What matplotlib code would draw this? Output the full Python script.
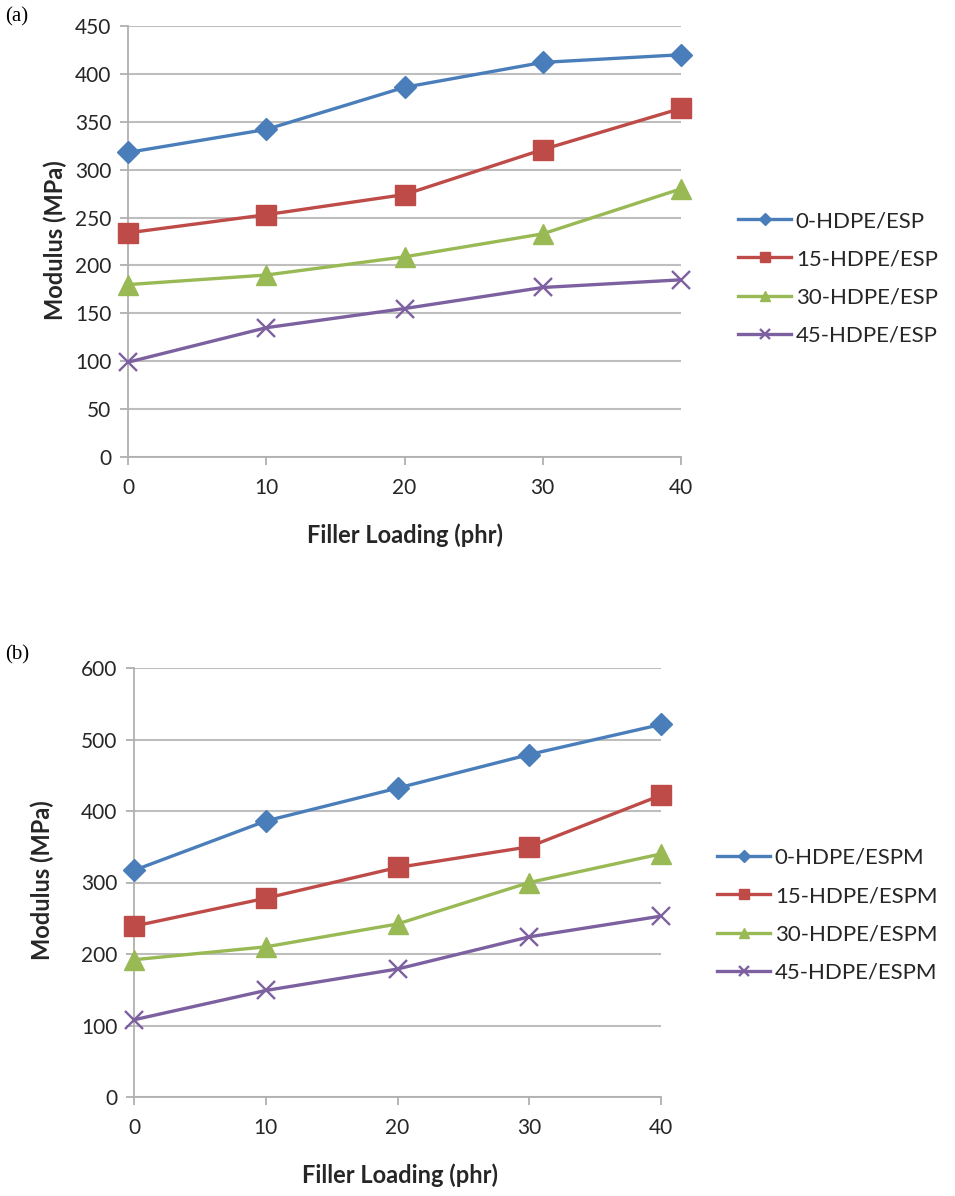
import matplotlib
matplotlib.use('Agg')
import matplotlib.pyplot as plt

plt.rcParams['font.family'] = ['Lato', 'DejaVu Sans']

# data
filler = [0, 10, 20, 30, 40]

labels_a = ['0-HDPE/ESP', '15-HDPE/ESP', '30-HDPE/ESP', '45-HDPE/ESP']
esp_0 = [318, 342, 386, 412, 420]
esp_15 = [234, 253, 274, 321, 364]
esp_30 = [180, 190, 209, 233, 280]
esp_45 = [99, 135, 155, 177, 185]

labels_b = ['0-HDPE/ESPM', '15-HDPE/ESPM', '30-HDPE/ESPM', '45-HDPE/ESPM']
espm_0 = [317, 386, 432, 479, 521]
espm_15 = [239, 278, 321, 350, 422]
espm_30 = [192, 210, 242, 300, 340]
espm_45 = [108, 149, 179, 224, 253]

yticks_a = [0, 50, 100, 150, 200, 250, 300, 350, 400, 450]
yticks_b = [0, 100, 200, 300, 400, 500, 600]

COLORS = ['#4A7EBB', '#BE4B48', '#98B954', '#7D60A0']
MARKERS = [('D', 11), ('s', 14), ('^', 14), ('x', 13)]
GRID = '#BEBEBE'
TXT = '#262626'

fig = plt.figure(figsize=(9.55, 11.96), dpi=100)
fig.patch.set_facecolor('white')


def panel(rect, series, labels, yticks, leg_x, leg_y, xlab_x, xlab_y, ylab_x, ylab_y):
    ax = fig.add_axes(rect)
    handles = []
    for vals, lab, c, (m, ms) in zip(series, labels, COLORS, MARKERS):
        if m == 'x':
            ln, = ax.plot(filler, vals, color=c, lw=2.4, marker=m, ms=ms, mew=1.7,
                          mec=c, label=lab, clip_on=False, zorder=3)
        else:
            ln, = ax.plot(filler, vals, color=c, lw=2.4, marker=m, ms=ms,
                          mfc=c, mec=c, label=lab, clip_on=False, zorder=3)
        handles.append(ln)
    ax.set_xlim(filler[0], filler[-1])
    ax.set_ylim(yticks[0], yticks[-1])
    ax.set_xticks(filler)
    ax.set_yticks(yticks)
    ax.yaxis.grid(True, color=GRID, lw=1.5)
    ax.set_axisbelow(True)
    for s in ['top', 'right']:
        ax.spines[s].set_visible(False)
    for s in ['left', 'bottom']:
        ax.spines[s].set_color('#B0B0B0')
        ax.spines[s].set_linewidth(1.3)
    ax.tick_params(axis='both', colors='#B0B0B0', labelcolor=TXT, labelsize=15,
                   length=6, width=1.3, direction='out')
    ax.tick_params(axis='x', pad=9)
    ax.tick_params(axis='y', pad=6)
    fig.text(xlab_x, xlab_y, 'Filler Loading (phr)', ha='center', va='center',
             fontsize=17, fontweight='bold', color=TXT)
    fig.text(ylab_x, ylab_y, 'Modulus (MPa)', ha='center', va='center',
             fontsize=17, fontweight='bold', color=TXT, rotation=90)
    fig.legend(handles=handles, loc='upper left', bbox_to_anchor=(leg_x, leg_y),
               frameon=False, fontsize=16, markerscale=0.55, handlelength=2.4,
               handletextpad=0.2, labelspacing=0.82, labelcolor=TXT)
    return ax


panel([128 / 955, 1 - 457 / 1196, 553 / 955, 431 / 1196],
      [esp_0, esp_15, esp_30, esp_45], labels_a, yticks_a,
      718 / 955, 1 - 191 / 1196, 405 / 955, 1 - 535 / 1196, 55 / 955, 1 - 240 / 1196)

panel([134 / 955, 1 - 1097 / 1196, 527 / 955, 429 / 1196],
      [espm_0, espm_15, espm_30, espm_45], labels_b, yticks_b,
      697 / 955, 1 - 828 / 1196, 400 / 955, 1 - 1175 / 1196, 42 / 955, 1 - 880 / 1196)

fig.text(5 / 955, 1 - 17 / 1196, '(a)', ha='left', va='center', fontsize=15,
         family='Liberation Serif', color='black')
fig.text(5 / 955, 1 - 655 / 1196, '(b)', ha='left', va='center', fontsize=15,
         family='Liberation Serif', color='black')

plt.savefig('out.png', dpi=100, facecolor='white')
